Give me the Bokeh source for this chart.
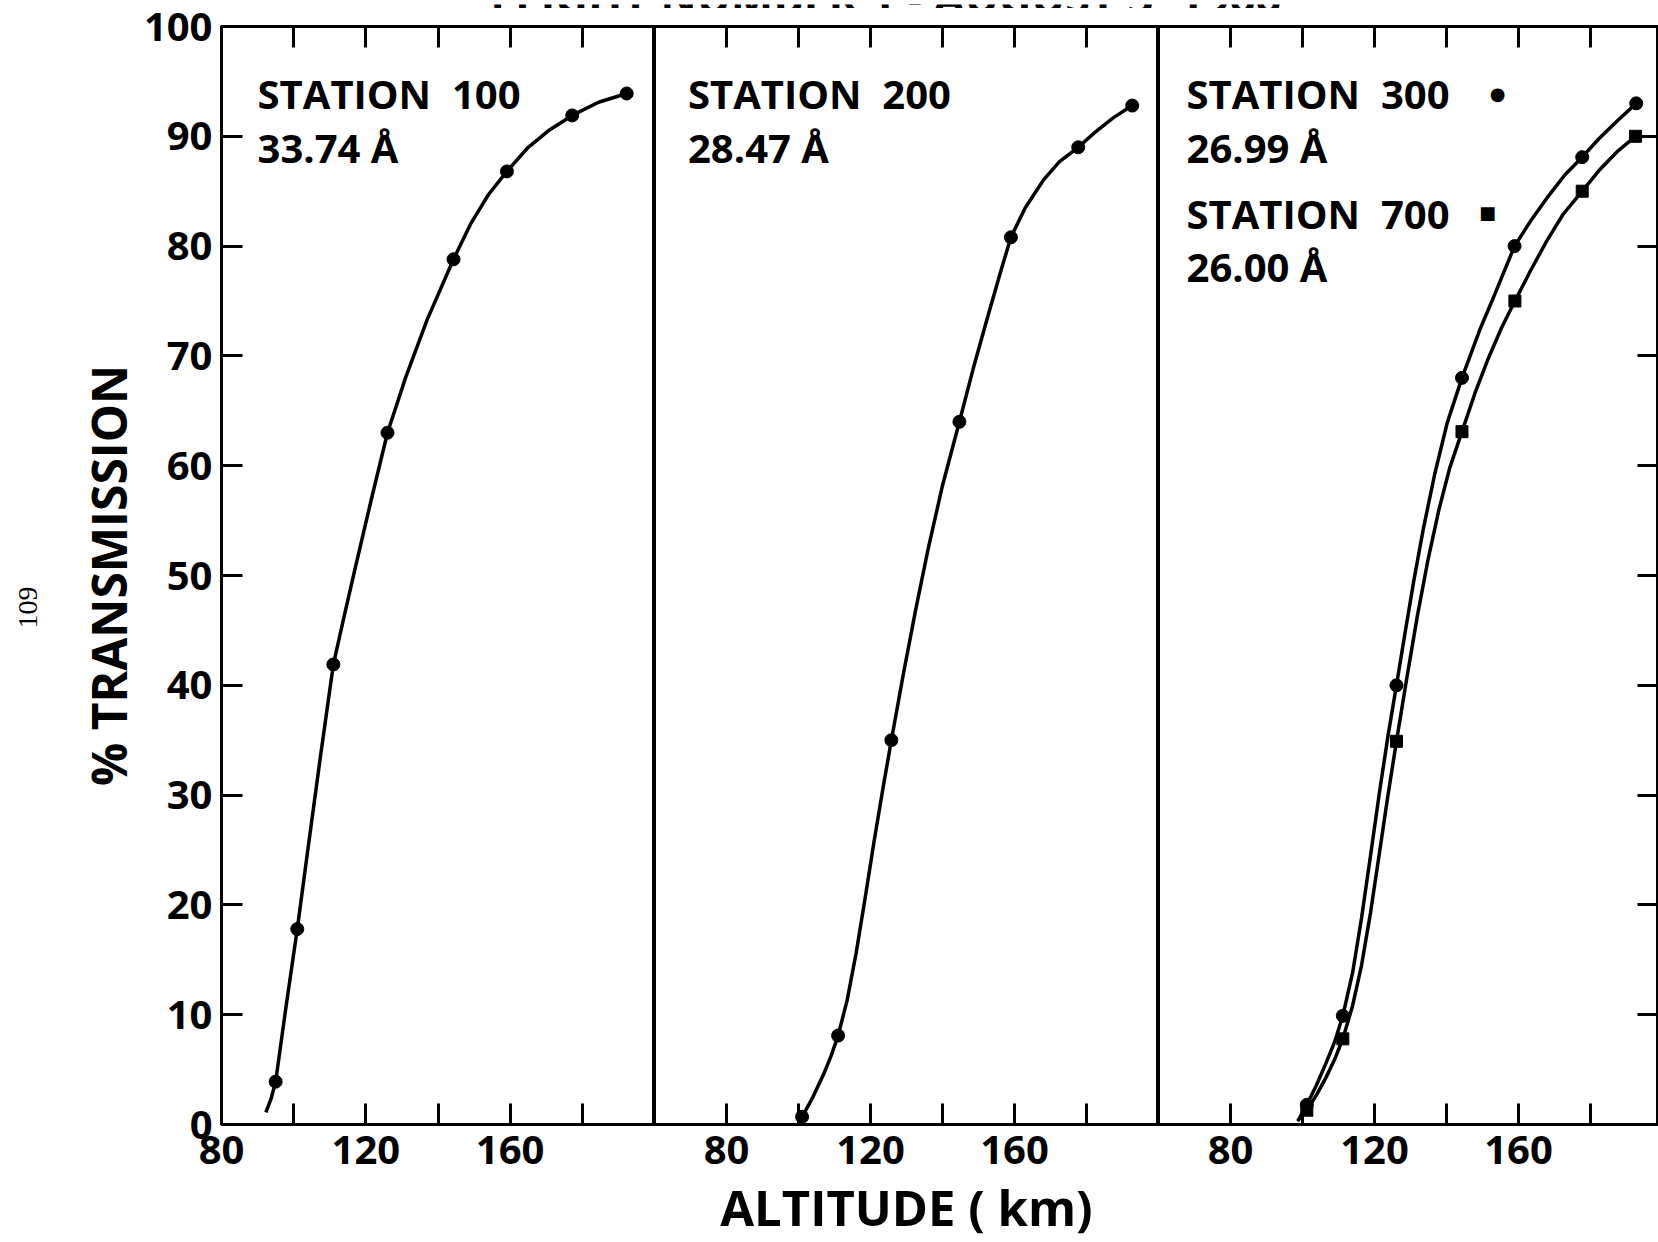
import math
from bokeh.plotting import figure
from bokeh.models import Range1d, LinearAxis, FixedTicker, Label
from bokeh.layouts import row, column
from bokeh.embed import file_html
from bokeh.resources import INLINE

FONT = "Open Sans"

# ---------------- data ----------------
# Station 100 (33.74 A)
alt_100 = [95.0, 101.0, 111.0, 126.0, 144.3, 159.1, 177.2, 192.3]
tr_100 = [3.9, 17.8, 41.9, 63.0, 78.8, 86.8, 91.9, 93.9]
curve_alt_100 = [92.3, 93.7, 95.0, 98.0, 101.0, 104.0, 107.5, 111.0, 114.0,
                 117.5, 121.5, 126.0, 131.0, 137.0, 144.3, 149.0, 154.0, 159.1, 165.0, 171.0,
                 177.2, 184.5, 192.3]
curve_tr_100 = [1.1, 2.3, 3.9, 11.0, 17.8, 25.2, 33.7, 41.9, 46.3,
                51.3, 56.9, 63.0, 68.0, 73.3, 78.8, 82.0, 84.7, 86.8, 89.0, 90.6,
                91.9, 93.1, 93.9]

# Station 200 (28.47 A)
alt_200 = [101.0, 111.0, 125.8, 144.7, 159.0, 177.7, 192.7]
tr_200 = [0.7, 8.1, 35.0, 64.0, 80.8, 89.0, 92.8]
curve_alt_200 = [101.0, 104.0, 107.0, 109.0, 111.0, 113.5, 116.0, 118.5, 121.0, 123.5, 125.8,
                 129.0, 132.5, 136.0, 140.0, 144.7, 148.5, 152.5, 156.0, 159.0, 163.0, 168.0,
                 172.5, 177.7, 182.5, 187.5, 192.7]
curve_tr_200 = [0.7, 2.5, 4.6, 6.2, 8.1, 11.3, 15.6, 20.6, 25.8, 30.7, 35.0,
                40.8, 46.8, 52.4, 58.2, 64.0, 68.8, 73.5, 77.5, 80.8, 83.5, 86.0,
                87.7, 89.0, 90.4, 91.7, 92.8]

# Station 300 (26.99 A) - circles
alt_300 = [101.2, 111.2, 126.1, 144.3, 158.9, 177.7, 192.7]
tr_300 = [1.8, 9.9, 40.0, 68.0, 80.0, 88.1, 93.0]
curve_alt_300 = [99.0, 101.2, 103.9, 106.4, 108.9, 111.2, 113.9, 116.4, 118.9, 121.4, 123.7,
                 126.1, 128.4, 130.8, 133.6, 136.7, 140.2, 144.3, 149.4, 153.4, 158.9, 163.4,
                 168.4, 172.9, 177.7, 182.4, 187.4, 192.7]
curve_tr_300 = [0.5, 1.8, 3.6, 5.5, 7.5, 9.9, 13.8, 18.8, 24.5, 30.3, 35.3,
                40.0, 44.6, 49.3, 54.3, 59.2, 63.9, 68.0, 72.5, 75.6, 80.0, 82.3,
                84.6, 86.5, 88.1, 89.8, 91.4, 93.0]

# Station 700 (26.00 A) - squares
alt_700 = [101.2, 111.2, 126.1, 144.3, 159.0, 177.7, 192.5]
tr_700 = [1.3, 7.8, 34.9, 63.1, 75.0, 85.0, 90.0]
curve_alt_700 = [98.6, 101.2, 103.9, 106.4, 108.9, 111.2, 113.9, 116.4, 118.9, 121.4, 123.7,
                 126.1, 128.9, 131.9, 134.9, 137.9, 140.9, 144.3, 147.9, 151.4, 155.2, 159.0,
                 163.4, 167.9, 172.4, 177.7, 182.4, 187.4, 192.5]
curve_tr_700 = [0.3, 1.3, 2.7, 4.2, 5.9, 7.8, 10.8, 14.5, 19.3, 24.8, 29.9,
                34.9, 40.5, 46.3, 51.5, 56.0, 59.8, 63.1, 66.6, 69.6, 72.5, 75.0,
                77.8, 80.5, 82.9, 85.0, 86.9, 88.6, 90.0]

# tick values
x_label_ticks = [80, 120, 160]
x_minor_ticks = [100, 140, 180]
x_all_ticks = [80, 100, 120, 140, 160, 180]
y_ticks = [0, 10, 20, 30, 40, 50, 60, 70, 80, 90, 100]
y_right_ticks = [10, 20, 30, 40, 50, 60, 70, 80, 90]

TITLE = "FLIGHT  NUMBER 1 - AUGUST 3, 1966"
X_TITLE = "ALTITUDE ( km)"
Y_TITLE = "% TRANSMISSION"

# ---------------- layout ----------------
TOTAL_W = 1658
TOP_STRIP_H = 8
ROW_H = 1242 - TOP_STRIP_H
TOP = 18
BOT = ROW_H - (1124 - TOP_STRIP_H)
LEFT_STRIP_W = 50
LEFT1 = 171
FRAME1 = 433      # 80..200 km
W2 = 504          # 60..200 km
W3 = TOTAL_W - LEFT_STRIP_W - (LEFT1 + FRAME1) - W2
PX_PER_KM = W2 / 140.0
LW = 3.5
MS = 13

yr = Range1d(0, 100)


def strip_fig(width, height):
    p = figure(width=width, height=height, x_range=Range1d(0, width), y_range=Range1d(0, height),
               output_backend="svg", toolbar_location=None,
               x_axis_location=None, y_axis_location=None, min_border=0)
    p.xgrid.visible = False
    p.ygrid.visible = False
    p.outline_line_color = None
    p.background_fill_color = "white"
    p.border_fill_color = "white"
    return p


def base_fig(width, xr, left, right):
    p = figure(width=width, height=ROW_H, x_range=xr, y_range=yr,
               output_backend="svg", toolbar_location=None,
               x_axis_location=None, y_axis_location=None,
               min_border_left=left, min_border_right=right,
               min_border_top=TOP, min_border_bottom=BOT)
    p.xgrid.visible = False
    p.ygrid.visible = False
    p.outline_line_color = "black"
    p.outline_line_width = 3
    p.outline_line_alpha = 1.0
    p.background_fill_color = "white"
    p.border_fill_color = "white"
    return p


def style_axis(ax, standoff=0):
    ax.axis_line_color = "black"
    ax.axis_line_width = 3
    ax.major_tick_line_color = "black"
    ax.major_tick_line_width = 3
    ax.major_tick_in = 21
    ax.major_tick_out = 0
    ax.minor_tick_line_color = "black"
    ax.minor_tick_line_width = 3
    ax.minor_tick_in = 21
    ax.minor_tick_out = 0
    ax.major_label_text_font = FONT
    ax.major_label_text_font_style = "bold"
    ax.major_label_text_color = "black"
    ax.major_label_text_font_size = "40px"
    ax.major_label_standoff = standoff


def add_x_axes(p, title=None):
    below = LinearAxis(ticker=FixedTicker(ticks=x_label_ticks, minor_ticks=x_minor_ticks))
    style_axis(below, 11)
    if title:
        below.axis_label = title
        below.axis_label_text_font = FONT
        below.axis_label_text_font_style = "bold"
        below.axis_label_text_font_size = "49px"
        below.axis_label_text_color = "black"
        below.axis_label_standoff = 7
    p.add_layout(below, "below")
    above = LinearAxis(ticker=FixedTicker(ticks=[], minor_ticks=x_all_ticks))
    style_axis(above, 0)
    p.add_layout(above, "above")


def station_label(p, x, y, text):
    p.add_layout(Label(x=x, y=y, text=text, text_font=FONT, text_font_style="bold",
                       text_font_size="40px", text_color="black",
                       text_baseline="alphabetic", text_align="left"))


def symbol_label(p, x, y, text):
    p.add_layout(Label(x=x, y=y, text=text, text_font="DejaVu Sans",
                       text_font_size="18px", text_color="black",
                       text_baseline="middle", text_align="center"))


# ---- title strip (cut at the top edge, as in the reference) ----
top_strip = strip_fig(TOTAL_W, TOP_STRIP_H)
top_strip.add_layout(Label(x=891, y=16, text=TITLE, text_font=FONT, text_font_style="bold",
                           text_font_size="45px", text_color="black",
                           text_align="center", text_baseline="alphabetic"))

# ---- page number strip ----
left_strip = strip_fig(LEFT_STRIP_W, ROW_H)
left_strip.add_layout(Label(x=27, y=581, text="109",
                            text_font="Liberation Serif",
                            text_font_size="28px", text_color="black", angle=math.pi / 2,
                            text_align="center", text_baseline="middle"))

# ---- panel 1 ----
p1 = base_fig(LEFT1 + FRAME1, Range1d(80, 200), LEFT1, 0)
add_x_axes(p1)
yax = LinearAxis(ticker=FixedTicker(ticks=y_ticks))
style_axis(yax, 9)
yax.axis_label = Y_TITLE
yax.axis_label_text_font = FONT
yax.axis_label_text_font_style = "bold"
yax.axis_label_text_font_size = "48px"
yax.axis_label_text_color = "black"
yax.axis_label_standoff = 0
p1.add_layout(yax, "left")
p1.line(curve_alt_100, curve_tr_100, line_width=LW, line_color="black")
p1.scatter(alt_100, tr_100, marker="circle", size=MS, fill_color="black", line_color="black")
station_label(p1, 90, 93.9, "STATION\u00a0 100")
station_label(p1, 90, 89.0, "33.74 \u00c5")

# ---- panel 2 ----
p2 = base_fig(W2, Range1d(60, 200), 0, 0)
add_x_axes(p2, X_TITLE)
p2.line(curve_alt_200, curve_tr_200, line_width=LW, line_color="black")
p2.scatter(alt_200, tr_200, marker="circle", size=MS, fill_color="black", line_color="black")
station_label(p2, 69.3, 93.9, "STATION\u00a0 200")
station_label(p2, 69.3, 89.0, "28.47 \u00c5")

# ---- panel 3 ----
p3 = base_fig(W3, Range1d(60, 60 + W3 / PX_PER_KM), 0, 0)
add_x_axes(p3)
rax = LinearAxis(ticker=FixedTicker(ticks=[], minor_ticks=y_right_ticks))
style_axis(rax, 0)
p3.add_layout(rax, "right")
p3.line(curve_alt_300, curve_tr_300, line_width=LW, line_color="black")
p3.line(curve_alt_700, curve_tr_700, line_width=LW, line_color="black")
p3.scatter(alt_300, tr_300, marker="circle", size=MS, fill_color="black", line_color="black")
p3.scatter(alt_700, tr_700, marker="square", size=MS - 1, fill_color="black", line_color="black")
station_label(p3, 67.8, 93.9, "STATION\u00a0 300")
symbol_label(p3, 154.2, 93.9, "\u25cf")
station_label(p3, 67.8, 89.0, "26.99 \u00c5")
station_label(p3, 67.8, 83.0, "STATION\u00a0 700")
symbol_label(p3, 151.4, 83.06, "\u25a0")
station_label(p3, 67.8, 78.1, "26.00 \u00c5")

layout = column(top_strip, row(left_strip, p1, p2, p3))
open("out.html", "w").write(file_html(layout, INLINE))
